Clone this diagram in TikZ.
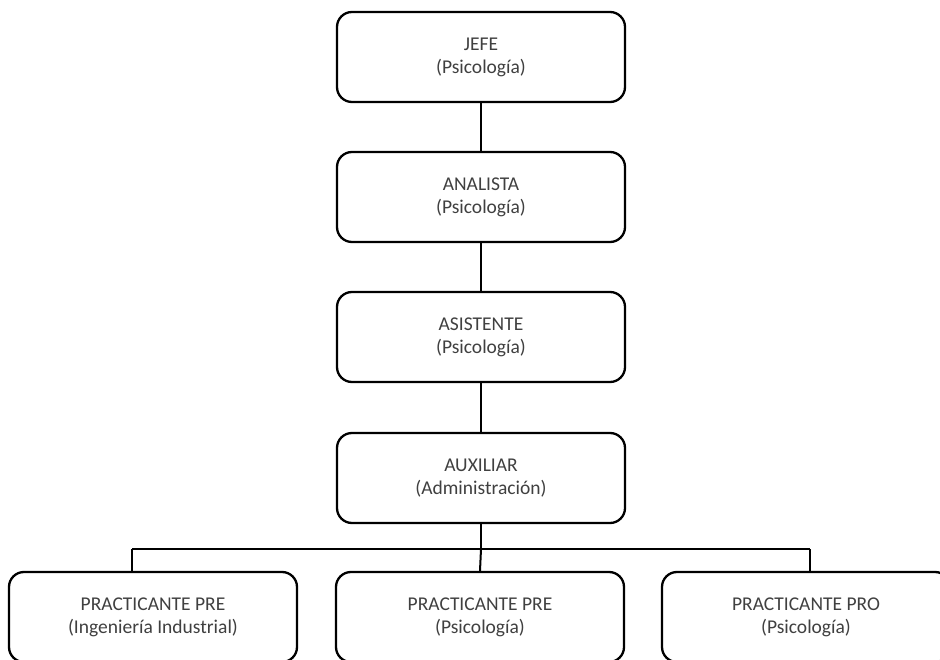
\documentclass[tikz,border=0pt]{standalone}
\usepackage{fontspec}
\setmainfont{Carlito}
\usetikzlibrary{calc}
\definecolor{texto}{RGB}{64,64,64}

\begin{document}
\begin{tikzpicture}[x=1pt, y=-1pt,
    puesto/.style={draw=black, line width=2.3pt, rounded corners=15pt, fill=white,
        minimum width=288pt, minimum height=90pt, align=center, text=texto,
        font=\fontsize{19.5}{23}\selectfont},
    linea/.style={draw=black, line width=2pt}]

    \useasboundingbox (0,0) rectangle (940,660);
    \clip (0,0) rectangle (940,660);

    % cadena principal
    \node[puesto] (jefe) at (481,57) {JEFE\\(Psicología)};
    \node[puesto] (analista) at (481,197) {ANALISTA\\(Psicología)};
    \node[puesto] (asistente) at (481,337) {ASISTENTE\\(Psicología)};
    \node[puesto] (auxiliar) at (481,478) {AUXILIAR\\(Administración)};

    % practicantes
    \node[puesto] (pre1) at (153,617) {PRACTICANTE PRE\\(Ingeniería Industrial)};
    \node[puesto] (pre2) at (480,617) {PRACTICANTE PRE\\(Psicología)};
    \node[puesto] (pro) at (806,617) {PRACTICANTE PRO\\(Psicología)};

    \draw[linea] (jefe.south) -- (analista.north);
    \draw[linea] (analista.south) -- (asistente.north);
    \draw[linea] (asistente.south) -- (auxiliar.north);

    \coordinate (barraI) at (132,549);
    \coordinate (barraD) at (810,549);
    \draw[linea] (auxiliar.south) -- (auxiliar.south |- barraI);
    \draw[linea] (barraI) -- (barraD);
    \draw[linea] (barraI) -- (barraI |- pre1.north);
    \draw[linea] (auxiliar.south |- barraI) -- (pre2.north);
    \draw[linea] (barraD) -- (barraD |- pro.north);

\end{tikzpicture}
\end{document}
